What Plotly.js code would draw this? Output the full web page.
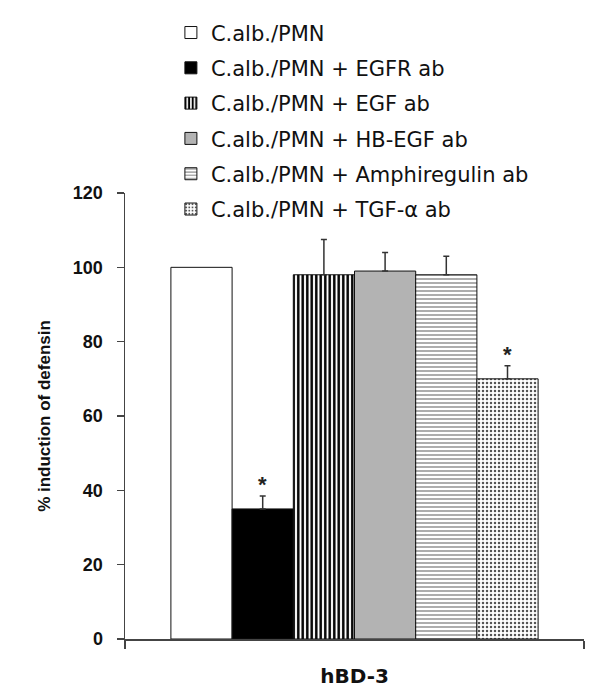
<!DOCTYPE html>
<html>
<head>
<meta charset="utf-8">
<script src="https://cdn.plot.ly/plotly-3.0.1.min.js"></script>
<style>html,body{margin:0;padding:0;background:#fff;}#chart{width:600px;height:692px;}</style>
</head>
<body>
<div id="chart"></div>
<script>
// ---- data ----
var category = ["hBD-3"];
var seriesNames = [
  "C.alb./PMN",
  "C.alb./PMN + EGFR ab",
  "C.alb./PMN + EGF ab",
  "C.alb./PMN + HB-EGF ab",
  "C.alb./PMN + Amphiregulin ab",
  "C.alb./PMN + TGF-\u03b1 ab"
];
var values = [100, 35, 98, 99, 98, 70];
var errors = [0, 3.5, 9.5, 5, 5, 3.5];
var significant = [false, true, false, false, false, true];
var yTicks = [0, 20, 40, 60, 80, 100, 120];

// ---- styles ----
var styles = [
  {color: "#ffffff", pattern: {shape: ""}},
  {color: "#000000", pattern: {shape: ""}},
  {color: "#ffffff", pattern: {shape: "|", fgcolor: "#000000", bgcolor: "#ffffff", size: 4.5, solidity: 0.55, fillmode: "replace"}},
  {color: "#b3b3b3", pattern: {shape: ""}},
  {color: "#ffffff", pattern: {shape: "-", fgcolor: "#8a8a8a", bgcolor: "#ffffff", size: 4, solidity: 0.35, fillmode: "replace"}},
  {color: "#ffffff", pattern: {shape: ".", fgcolor: "#555555", bgcolor: "#ffffff", size: 4, solidity: 0.3, fillmode: "replace"}}
];

var traces = seriesNames.map(function (name, i) {
  var t = {
    type: "bar",
    name: name,
    x: category,
    y: [values[i]],
    legendgroup: "g" + i,
    marker: {
      color: styles[i].color,
      pattern: styles[i].pattern,
      line: {color: "#111111", width: 1}
    },
    hoverinfo: "skip"
  };
  if (errors[i] > 0) {
    t.error_y = {type: "data", array: [errors[i]], arrayminus: [0], symmetric: false,
                 color: "#333333", thickness: 1.5, width: 3};
  }
  return t;
});

// asterisk annotations over significant bars (positions computed from group layout)
var nBars = seriesNames.length;
var groupWidth = 0.8;
var annotations = [];
seriesNames.forEach(function (n, i) {
  if (significant[i]) {
    var xc = -groupWidth / 2 + groupWidth / nBars * (i + 0.5);
    annotations.push({
      xref: "x", yref: "y", x: xc, y: values[i] + errors[i],
      text: "<b>*</b>", showarrow: false, yanchor: "bottom", yshift: -3,
      font: {family: "Liberation Sans, Arial, sans-serif", size: 22, color: "#222"}
    });
  }
});

var layout = {
  width: 600, height: 692,
  margin: {l: 125, r: 16, t: 193, b: 53},
  paper_bgcolor: "#ffffff", plot_bgcolor: "#ffffff",
  barmode: "group", bargap: 0.2, bargroupgap: 0,
  showlegend: true,
  legend: {
    x: 0.1, y: 1.405, xanchor: "left", yanchor: "top",
    font: {family: "DejaVu Sans, sans-serif", size: 21, color: "#111"},
    tracegroupgap: 5, traceorder: "grouped", bgcolor: "rgba(0,0,0,0)"
  },
  xaxis: {
    type: "category", showline: true, linecolor: "#444", linewidth: 1.5,
    ticks: "outside", tickson: "boundaries", ticklen: 8, tickwidth: 1.5, tickcolor: "#444",
    showgrid: false, zeroline: false,
    tickfont: {family: "DejaVu Sans, sans-serif", size: 20, color: "#111", weight: "bold"},
    ticklabelstandoff: 18
  },
  yaxis: {
    range: [0, 120], tickvals: yTicks, showline: true, linecolor: "#444", linewidth: 1.5,
    ticks: "outside", ticklen: 7, tickwidth: 1.5, tickcolor: "#444",
    showgrid: false, zeroline: false,
    tickfont: {family: "Liberation Sans, Arial, sans-serif", size: 18, color: "#111", weight: "bold"},
    ticklabelstandoff: 10,
    title: {text: "% induction of defensin", standoff: 18,
            font: {family: "Liberation Sans, Arial, sans-serif", size: 17, color: "#111", weight: "bold"}}
  },
  annotations: annotations
};

Plotly.newPlot("chart", traces, layout, {displayModeBar: false, staticPlot: true});
</script>
</body>
</html>
